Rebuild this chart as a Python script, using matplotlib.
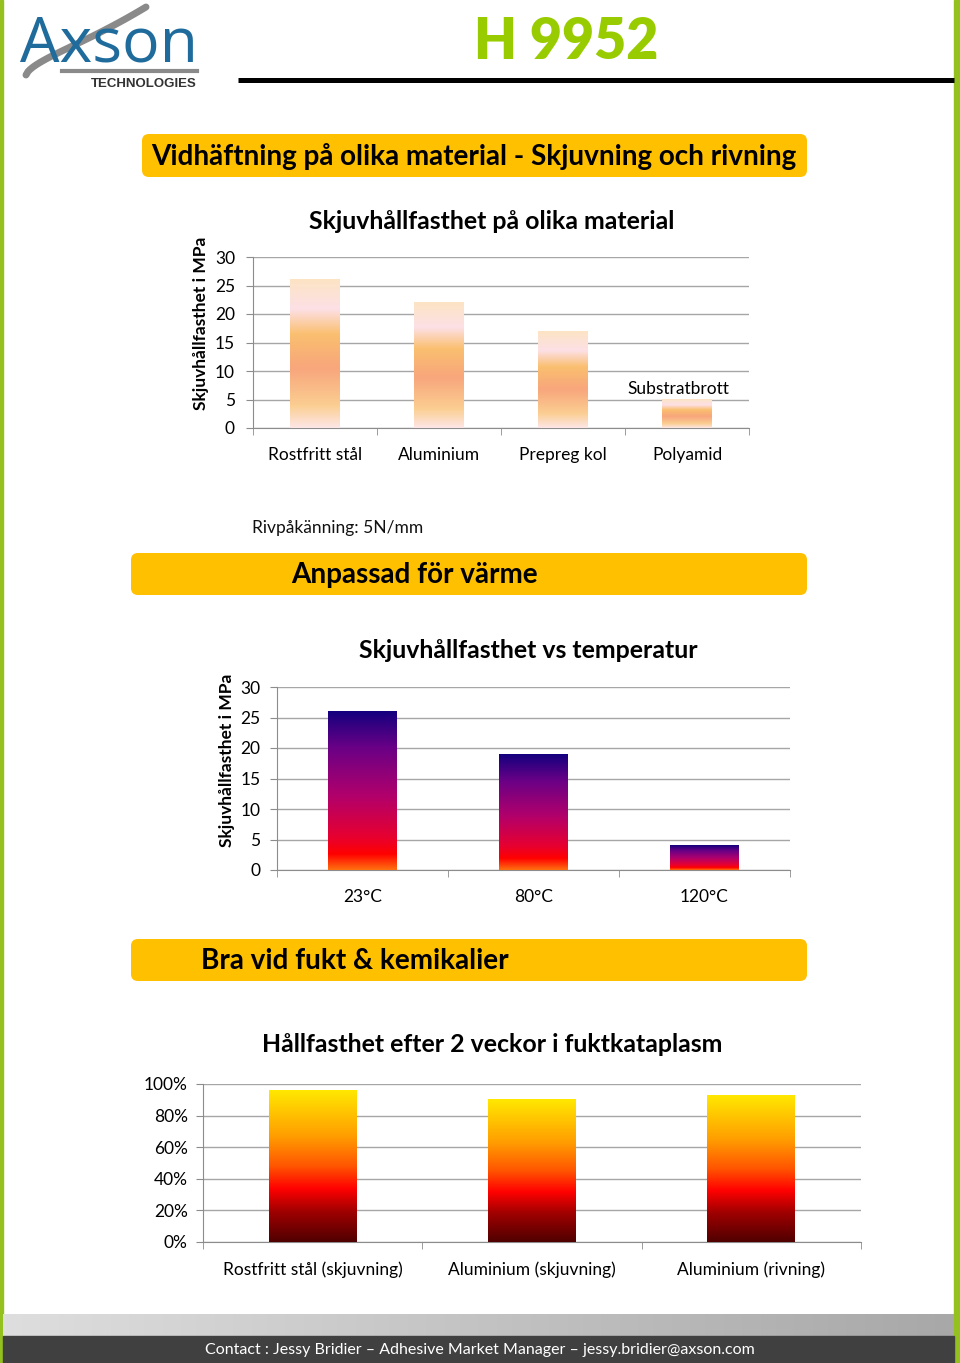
import numpy as np
import matplotlib
matplotlib.use("Agg")
import matplotlib.pyplot as plt
from matplotlib.colors import LinearSegmentedColormap
from matplotlib.patches import FancyBboxPatch, Rectangle
from matplotlib.ticker import PercentFormatter

plt.rcParams['font.family'] = ['Lato', 'DejaVu Sans']

# data
mat_cats = ["Rostfritt stål", "Aluminium", "Prepreg kol", "Polyamid"]
mat_vals = [26, 22, 17, 5]
temp_cats = ["23°C", "80°C", "120°C"]
temp_vals = [26, 19, 4]
fukt_cats = ["Rostfritt stål (skjuvning)", "Aluminium (skjuvning)", "Aluminium (rivning)"]
fukt_vals = [0.96, 0.90, 0.93]

W, H = 960, 1363
fig = plt.figure(figsize=(W / 100, H / 100), dpi=100)

# overlay for page decorations, pixel coordinates
bg = fig.add_axes([0, 0, 1, 1])
bg.set_xlim(0, W)
bg.set_ylim(H, 0)
bg.axis('off')

green = "#95c11f"
bg.add_patch(Rectangle((0, 0), 3, H, color=green))
bg.add_patch(Rectangle((954, 0), 6, H, color=green))

# logo (rough)
t = np.linspace(0, 1, 60)
bg.plot(26 + 120 * t, 80 - 68 * t ** 0.7 + 25 * t * (1 - t) - 5, color="#8a8a8a", lw=5, solid_capstyle='round')
bg.text(20, 45, "Axson", fontsize=45, color="#1f6b9c", va='center', ha='left', family=['Open Sans', 'DejaVu Sans'])
bg.plot([62, 197], [71, 71], color="#8a8a8a", lw=3)
bg.text(197, 84, "TECHNOLOGIES", fontsize=9.5, color="#333333", weight='bold', ha='right', va='center',
        family=['Liberation Sans Narrow', 'Liberation Sans', 'DejaVu Sans'])

bg.text(566, 42, "H 9952", fontsize=40, color="#99cc00", weight='heavy', ha='center', va='center')
bg.plot([238, 954], [80, 80], color="black", lw=3.6, solid_capstyle='butt')

# banners
banners = [
    ((142, 134, 807, 177), "Vidhäftning på olika material - Skjuvning och rivning", 151),
    ((131, 553, 807, 595), "Anpassad för värme", 291),
    ((131, 939, 807, 981), "Bra vid fukt & kemikalier", 201),
]
for (x0, y0, x1, y1), txt, tx in banners:
    bg.add_patch(FancyBboxPatch((x0, y0), x1 - x0, y1 - y0, boxstyle="round,pad=0,rounding_size=7",
                                fc="#ffc000", ec="none"))
    bg.text(tx, (y0 + y1) / 2 + 1, txt, fontsize=20.1, weight='bold', color="black", ha='left', va='center')

bg.text(252, 528, "Rivpåkänning: 5N/mm", fontsize=12.5, ha='left', va='center', color="#111111")

# footer
grad = np.linspace(0, 1, 256)[None, :]
bg.imshow(grad, extent=(3, 954, 1336, 1314), aspect='auto',
          cmap=LinearSegmentedColormap.from_list("ft", ["#dedede", "#a8a8a8"]), zorder=1)
bg.add_patch(Rectangle((3, 1336), 951, 27, color="#404040", zorder=1))
bg.text(480, 1350, "Contact : Jessy Bridier – Adhesive Market Manager – jessy.bridier@axson.com",
        fontsize=11.5, color="white", ha='center', va='center', zorder=2)
bg.set_xlim(0, W)
bg.set_ylim(H, 0)


def ax_px(x0, y0, x1, y1):
    return fig.add_axes([x0 / W, 1 - y1 / H, (x1 - x0) / W, (y1 - y0) / H])


def gradient_bars(ax, cats, vals, cmap, width, ypad):
    x = np.arange(len(cats))
    bars = ax.bar(x, vals, width=width, color='none', edgecolor='none', zorder=3)
    g = np.linspace(0, 1, 256)[:, None]
    for b in bars:
        ax.imshow(g, extent=(b.get_x(), b.get_x() + b.get_width(), 0, b.get_height()),
                  origin='lower', aspect='auto', cmap=cmap, zorder=3)
    ax.set_xlim(-0.5, len(cats) - 0.5)
    ax.set_xticks(x)
    ax.set_xticklabels(cats)
    ax.set_xticks(np.arange(len(cats) + 1) - 0.5, minor=True)
    ax.tick_params(axis='x', which='major', length=0, pad=14, labelsize=12.5)
    ax.tick_params(axis='x', which='minor', length=5, color="#8c8c8c")
    ax.tick_params(axis='y', length=5, color="#8c8c8c", labelsize=12.5, pad=ypad)
    ax.yaxis.grid(True, color="#a6a6a6", lw=1)
    ax.set_axisbelow(True)
    for s in ['top', 'right']:
        ax.spines[s].set_visible(False)
    for s in ['left', 'bottom']:
        ax.spines[s].set_color("#8c8c8c")
    return bars


# chart 1
cm1 = LinearSegmentedColormap.from_list("c1", [(0, "#fde6e6"), (0.15, "#fbce92"), (0.4, "#f8a67c"),
                                               (0.63, "#fabf6f"), (0.8, "#fde0e6"), (1, "#fce4c4")])
ax1 = ax_px(253, 257, 749, 428)
bars1 = gradient_bars(ax1, mat_cats, mat_vals, cm1, 0.4, 8)
ax1.set_ylim(0, 30)
ax1.set_yticks(range(0, 31, 5))
ax1.set_title("Skjuvhållfasthet på olika material", fontsize=17.9, weight='bold', pad=20,
              x=(492 - 253) / 496)
ax1.set_ylabel("Skjuvhållfasthet i MPa", fontsize=12.5, weight='bold')
ax1.yaxis.set_label_coords((209 - 253) / 496, (428 - 323) / 171)
b = bars1[3]
ax1.annotate("Substratbrott", (b.get_x() + b.get_width() / 2, b.get_height()), xytext=(-6, 2),
             textcoords='offset points', ha='center', va='bottom', fontsize=12.5)

# chart 2
cm2 = LinearSegmentedColormap.from_list("c2", [(0, "#ff7010"), (0.1, "#ff0000"), (0.2, "#e8002e"),
                                               (0.46, "#b3006a"), (0.77, "#6a0086"), (1, "#14007e")])
ax2 = ax_px(277, 687, 790, 870)
gradient_bars(ax2, temp_cats, temp_vals, cm2, 0.4, 7)
ax2.set_ylim(0, 30)
ax2.set_yticks(range(0, 31, 5))
ax2.set_title("Skjuvhållfasthet vs temperatur", fontsize=17.9, weight='bold', pad=21,
              x=(528 - 277) / 513)
ax2.set_ylabel("Skjuvhållfasthet i MPa", fontsize=12.5, weight='bold')
ax2.yaxis.set_label_coords((235 - 277) / 513, (870 - 760) / 183)

# chart 3
cm3 = LinearSegmentedColormap.from_list("c3", [(0, "#500000"), (0.2, "#a00000"), (0.35, "#ff0000"),
                                               (0.5, "#ff5500"), (0.7, "#ff9e00"), (1, "#ffe800")])
ax3 = ax_px(203, 1084, 861, 1242)
gradient_bars(ax3, fukt_cats, fukt_vals, cm3, 0.4, 6)
ax3.set_ylim(0, 1)
ax3.set_yticks(np.arange(0, 1.01, 0.2))
ax3.yaxis.set_major_formatter(PercentFormatter(1.0, decimals=0))
ax3.set_title("Hållfasthet efter 2 veckor i fuktkataplasm", fontsize=17.9, weight='bold', pad=23,
              x=(492 - 203) / 658)

fig.savefig("out.png", dpi=100)
